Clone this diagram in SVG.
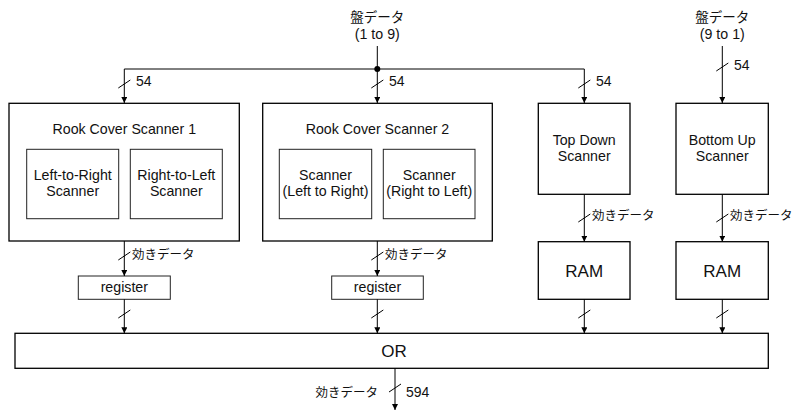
<svg xmlns="http://www.w3.org/2000/svg" width="793" height="411" viewBox="0 0 793 411">
<style>
.box{fill:#fff;stroke:#000;stroke-width:1.3}
.inner{fill:#fff;stroke:#222;stroke-width:1}
.t{font-family:"Liberation Sans",Arial,sans-serif;font-size:14.2px;fill:#111;text-anchor:middle}
.big{font-family:"Liberation Sans",Arial,sans-serif;font-size:17px;fill:#111;text-anchor:middle}
.jp{font-family:"Noto Sans CJK JP","Liberation Sans",sans-serif;font-size:12.5px;fill:#111}
.n{font-family:"Liberation Sans",Arial,sans-serif;font-size:14px;fill:#111}
.c{fill:none;stroke:#000;stroke-width:1}
.s{fill:none;stroke:#000;stroke-width:1}
</style>
<defs>
<marker id="ah" markerUnits="userSpaceOnUse" markerWidth="8" markerHeight="8" refX="6" refY="3" orient="auto">
<path d="M0,0 L6,3 L0,6 Z" fill="#000"/>
</marker>
</defs>
<rect width="793" height="411" fill="#fff"/>

<g id="in1">
<text class="jp" x="377.3" y="22" text-anchor="middle" style="font-size:13.5px">盤データ</text>
<text class="t" x="377.3" y="39">(1 to 9)</text>
</g>
<g id="in2">
<text class="jp" x="722.3" y="22" text-anchor="middle" style="font-size:13.5px">盤データ</text>
<text class="t" x="722.3" y="38.5">(9 to 1)</text>
</g>

<g id="rcs1">
<rect class="box" x="9" y="103.3" width="230.3" height="137.7"/>
<text class="t" x="124.3" y="134">Rook Cover Scanner 1</text>
<rect class="inner" x="26.7" y="149.3" width="92" height="69.4"/>
<text class="t" x="72.7" y="180">Left-to-Right</text>
<text class="t" x="72.7" y="196">Scanner</text>
<rect class="inner" x="130.3" y="149.3" width="92" height="69.4"/>
<text class="t" x="176.3" y="180">Right-to-Left</text>
<text class="t" x="176.3" y="196">Scanner</text>
</g>

<g id="rcs2">
<rect class="box" x="262.7" y="103.3" width="229.6" height="137.7"/>
<text class="t" x="377.5" y="134">Rook Cover Scanner 2</text>
<rect class="inner" x="279.3" y="149.3" width="92.4" height="69.4"/>
<text class="t" x="325.5" y="180">Scanner</text>
<text class="t" x="325.5" y="196">(Left to Right)</text>
<rect class="inner" x="383.3" y="149.3" width="91.7" height="69.4"/>
<text class="t" x="429.2" y="180">Scanner</text>
<text class="t" x="429.2" y="196">(Right to Left)</text>
</g>

<g id="topdown">
<rect class="box" x="538.3" y="103.3" width="91.7" height="91"/>
<text class="t" x="584.2" y="145">Top Down</text>
<text class="t" x="584.2" y="161">Scanner</text>
</g>
<g id="bottomup">
<rect class="box" x="676" y="103.3" width="92.3" height="91"/>
<text class="t" x="722.2" y="145">Bottom Up</text>
<text class="t" x="722.2" y="161">Scanner</text>
</g>

<g id="ram1">
<rect class="box" x="538.3" y="241.7" width="91.7" height="57.6"/>
<text class="big" x="584.2" y="277">RAM</text>
</g>
<g id="ram2">
<rect class="box" x="676" y="241.7" width="92.3" height="57.6"/>
<text class="big" x="722.2" y="277">RAM</text>
</g>

<g id="reg1">
<rect class="inner" x="78.3" y="276" width="92" height="23.3"/>
<text class="t" x="124.3" y="292">register</text>
</g>
<g id="reg2">
<rect class="inner" x="331.7" y="276" width="91.6" height="23.3"/>
<text class="t" x="377.5" y="292">register</text>
</g>

<g id="or">
<rect class="box" x="15" y="333.3" width="753.3" height="35"/>
<text class="big" x="394" y="357">OR</text>
</g>

<g id="connectors">
<line class="c" x1="377.3" y1="46" x2="377.3" y2="69"/>
<line class="c" x1="124.3" y1="69" x2="584.3" y2="69"/>
<circle cx="377.3" cy="69" r="3" fill="#000"/>
<line class="c" x1="124.3" y1="69" x2="124.3" y2="103" marker-end="url(#ah)"/>
<line class="c" x1="377.3" y1="69" x2="377.3" y2="103" marker-end="url(#ah)"/>
<line class="c" x1="584.3" y1="69" x2="584.3" y2="103" marker-end="url(#ah)"/>
<line class="c" x1="722.3" y1="46" x2="722.3" y2="103" marker-end="url(#ah)"/>

<line class="c" x1="124.3" y1="241" x2="124.3" y2="276" marker-end="url(#ah)"/>
<line class="c" x1="377.3" y1="241" x2="377.3" y2="276" marker-end="url(#ah)"/>
<line class="c" x1="584.3" y1="194.3" x2="584.3" y2="241.7" marker-end="url(#ah)"/>
<line class="c" x1="722.3" y1="194.3" x2="722.3" y2="241.7" marker-end="url(#ah)"/>

<line class="c" x1="124.3" y1="299.3" x2="124.3" y2="333.3" marker-end="url(#ah)"/>
<line class="c" x1="377.3" y1="299.3" x2="377.3" y2="333.3" marker-end="url(#ah)"/>
<line class="c" x1="584.3" y1="299.3" x2="584.3" y2="333.3" marker-end="url(#ah)"/>
<line class="c" x1="722.3" y1="299.3" x2="722.3" y2="333.3" marker-end="url(#ah)"/>

<line class="c" x1="395" y1="368.3" x2="395" y2="410" marker-end="url(#ah)"/>

<g class="slashes">
<line class="s" x1="118.3" y1="88" x2="130.3" y2="80"/>
<line class="s" x1="371.3" y1="88" x2="383.3" y2="80"/>
<line class="s" x1="578.3" y1="88" x2="590.3" y2="80"/>
<line class="s" x1="716.3" y1="71" x2="728.3" y2="63"/>
<line class="s" x1="118.3" y1="260" x2="130.3" y2="252"/>
<line class="s" x1="371.3" y1="260" x2="383.3" y2="252"/>
<line class="s" x1="578.3" y1="222" x2="590.3" y2="214"/>
<line class="s" x1="716.3" y1="222" x2="728.3" y2="214"/>
<line class="s" x1="118.3" y1="318" x2="130.3" y2="310"/>
<line class="s" x1="371.3" y1="318" x2="383.3" y2="310"/>
<line class="s" x1="578.3" y1="318" x2="590.3" y2="310"/>
<line class="s" x1="716.3" y1="318" x2="728.3" y2="310"/>
<line class="s" x1="389" y1="392" x2="401" y2="384"/>
</g>

<text class="n" x="136" y="86">54</text>
<text class="n" x="389" y="86">54</text>
<text class="n" x="596" y="86">54</text>
<text class="n" x="734" y="70">54</text>
<text class="jp" x="132" y="259">効きデータ</text>
<text class="jp" x="385" y="259">効きデータ</text>
<text class="jp" x="592" y="220">効きデータ</text>
<text class="jp" x="730" y="220">効きデータ</text>
<text class="jp" x="378" y="397" text-anchor="end">効きデータ</text>
<text class="n" x="406" y="397">594</text>
</g>
</svg>
